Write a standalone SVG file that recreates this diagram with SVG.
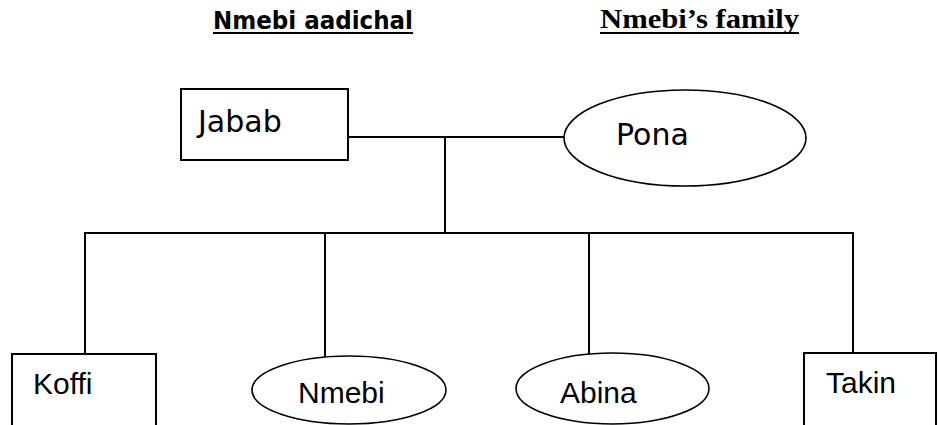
<svg xmlns="http://www.w3.org/2000/svg" width="938" height="425" viewBox="0 0 938 425">
<style>
.box{fill:#fff;stroke:#000;stroke-width:2}
.ell{fill:#fff;stroke:#000;stroke-width:1.6}
.ln{stroke:#000;stroke-width:2;fill:none}
.t1{font-family:"DejaVu Sans",sans-serif;font-size:30px;fill:#000}
.t2{font-family:"Liberation Sans",Arial,sans-serif;font-size:30px;fill:#000}
.h1{font-family:"DejaVu Sans",sans-serif;font-weight:bold;font-size:24px;fill:#000}
.h2{font-family:"Liberation Serif","Times New Roman",serif;font-weight:bold;font-size:27px;fill:#000}
</style>
<rect width="938" height="425" fill="#fff"/>
<g id="titles">
<text class="h1" x="213" y="29" textLength="200" lengthAdjust="spacingAndGlyphs">Nmebi aadichal</text>
<line class="ln" x1="213" y1="33" x2="413" y2="33"/>
<text class="h2" x="600" y="28" textLength="199" lengthAdjust="spacingAndGlyphs">Nmebi’s family</text>
<line class="ln" x1="600" y1="33" x2="799" y2="33"/>
</g>
<g id="connectors">
<line class="ln" x1="348" y1="137" x2="565" y2="137"/>
<line class="ln" x1="445" y1="137" x2="445" y2="233"/>
<line class="ln" x1="84" y1="233" x2="854" y2="233"/>
<line class="ln" x1="85" y1="233" x2="85" y2="354"/>
<line class="ln" x1="325" y1="233" x2="325" y2="357"/>
<line class="ln" x1="589" y1="233" x2="589" y2="354"/>
<line class="ln" x1="853" y1="233" x2="853" y2="353"/>
</g>
<g id="jabab">
<rect class="box" x="181" y="89" width="167" height="71"/>
<text class="t1" x="198" y="132">Jabab</text>
</g>
<g id="pona">
<ellipse class="ell" cx="685" cy="138" rx="121" ry="48"/>
<text class="t1" x="616" y="145">Pona</text>
</g>
<g id="koffi">
<rect class="box" x="12" y="354" width="144" height="100"/>
<text class="t2" x="33" y="394">Koffi</text>
</g>
<g id="nmebi">
<ellipse class="ell" cx="349" cy="390" rx="97" ry="34"/>
<text class="t2" x="298" y="403">Nmebi</text>
</g>
<g id="abina">
<ellipse class="ell" cx="612.5" cy="388.5" rx="96.5" ry="35.5"/>
<text class="t2" x="560" y="403">Abina</text>
</g>
<g id="takin">
<rect class="box" x="804" y="353" width="132" height="100"/>
<text class="t2" x="826" y="393">Takin</text>
</g>
</svg>
